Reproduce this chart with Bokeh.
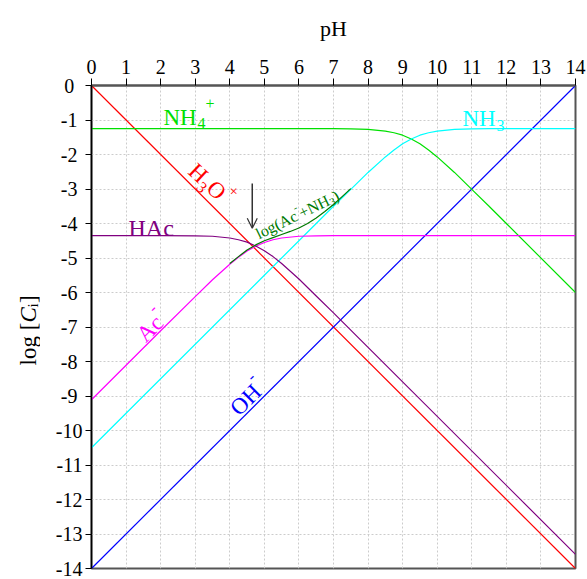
import math
from bokeh.plotting import figure
from bokeh.layouts import row
from bokeh.models import Range1d, FixedTicker, Label, Arrow, OpenHead
from bokeh.embed import file_html
from bokeh.resources import INLINE

# ---------------- data ----------------
ph_ticks = list(range(0, 15))
logc_ticks = list(range(0, -15, -1))

ph_h3o = [0, 14]
logc_h3o = [0.0, -14.0]

ph_oh = [0, 14]
logc_oh = [-14.0, 0.0]

ph_ac = [0, 2, 3, 3.5, 4, 4.25, 4.5, 4.75, 5, 5.25, 5.5, 6, 6.5, 7, 14]
logc_ac = [-9.11, -7.11, -6.12, -5.63, -5.18, -4.98, -4.80, -4.66, -4.55,
           -4.47, -4.42, -4.37, -4.36, -4.35, -4.35]

ph_hac = [0, 2, 3, 3.5, 4, 4.25, 4.5, 4.75, 5, 5.25, 5.5, 6, 6.5, 7, 8, 14]
logc_hac = [-4.35, -4.35, -4.36, -4.37, -4.42, -4.47, -4.54, -4.65, -4.79,
            -4.96, -5.16, -5.61, -6.10, -6.59, -7.59, -13.59]

ph_nh4 = [0, 7, 7.5, 8, 8.5, 8.75, 9, 9.25, 9.5, 9.75, 10, 10.5, 11, 11.5, 12, 14]
logc_nh4 = [-1.25, -1.25, -1.26, -1.27, -1.32, -1.37, -1.44, -1.55, -1.69,
            -1.87, -2.07, -2.52, -3.01, -3.50, -4.00, -6.00]

ph_nh3 = [0, 5, 6, 6.5, 7, 7.5, 8, 8.5, 8.75, 9, 9.25, 9.5, 9.75, 10, 10.5, 11, 11.5, 14]
logc_nh3 = [-10.50, -5.50, -4.50, -4.00, -3.50, -3.01, -2.52, -2.07, -1.87,
            -1.69, -1.55, -1.44, -1.37, -1.32, -1.27, -1.26, -1.25, -1.25]

ph_sum = [4, 4.25, 4.5, 4.75, 5, 5.25, 5.5, 5.75, 6, 6.25, 6.5, 6.75, 7, 7.25, 7.5]
logc_sum = [-5.16, -4.96, -4.77, -4.62, -4.50, -4.41, -4.32, -4.23, -4.13,
            -4.00, -3.84, -3.65, -3.45, -3.22, -2.99]

# ---------------- geometry ----------------
FONT = "Liberation Serif"
W, H = 587, 579
LABW = 40                      # narrow strip holding the y-axis title
BL, BR, BT, BB = 91, 12, 85, 11
FW, FH = W - BL - BR, H - BT - BB

# ---------------- main figure ----------------
p = figure(width=W - LABW, height=H, x_range=Range1d(0, 14), y_range=Range1d(-14, 0),
           output_backend="svg", toolbar_location=None, x_axis_location="above",
           title=None,
           min_border_left=BL - LABW, min_border_right=BR, min_border_top=BT,
           min_border_bottom=BB, background_fill_color="white",
           border_fill_color="white")

p.outline_line_color = "#555555"
p.outline_line_width = 2

# centred-looking y tick labels: pad shorter labels with thin unicode spaces
PAD1 = "\u2005"            # quarter em
PAD0 = "\u2005\u2006"      # quarter + sixth em


def ylab(t):
    s = str(t)
    if t == 0:
        return s + PAD0
    if t > -10:
        return s + PAD1
    return s


xa = p.xaxis[0]
xa.ticker = FixedTicker(ticks=ph_ticks)
xa.major_label_overrides = {t: str(t) for t in ph_ticks}
xa.axis_line_color = "#555555"
xa.axis_line_width = 2
xa.axis_label = "pH"
xa.axis_label_text_font = FONT
xa.axis_label_text_font_size = "22px"
xa.axis_label_text_font_style = "normal"
xa.axis_label_text_color = "black"
xa.axis_label_standoff = 16

ya = p.yaxis[0]
ya.ticker = FixedTicker(ticks=logc_ticks)
ya.major_label_overrides = {t: ylab(t) for t in logc_ticks}
ya.axis_line_color = "black"
ya.axis_line_width = 1.5
for ax in (xa, ya):
    ax.major_tick_line_color = "black"
    ax.major_tick_line_width = 1
    ax.major_tick_in = 0
    ax.minor_tick_line_color = None
    ax.major_label_text_font = FONT
    ax.major_label_text_font_size = "20px"
    ax.major_label_text_color = "black"
xa.major_tick_out = 7
xa.major_label_standoff = 5
ya.major_tick_out = 6
ya.major_label_standoff = 3

for g in (p.xgrid[0], p.ygrid[0]):
    g.grid_line_color = "#cccccc"
    g.grid_line_dash = "2 2"
    g.grid_line_width = 1

# ---------------- curves ----------------
LW = 1.2
p.line(ph_h3o, logc_h3o, line_color="#ff0000", line_width=LW)
p.line(ph_oh, logc_oh, line_color="#0000ff", line_width=LW)
p.line(ph_nh4, logc_nh4, line_color="#00e000", line_width=LW)
p.line(ph_nh3, logc_nh3, line_color="#00ffff", line_width=LW)
p.line(ph_ac, logc_ac, line_color="#ff00ff", line_width=LW)
p.line(ph_hac, logc_hac, line_color="#800080", line_width=LW)
p.line(ph_sum, logc_sum, line_color="#007a00", line_width=LW)

p.add_layout(Arrow(end=OpenHead(size=10, line_color="#333333", line_width=1.2),
                   x_start=4.65, y_start=-2.84, x_end=4.65, y_end=-4.14,
                   line_color="#333333", line_width=1.5))

# ---------------- labels ----------------
SX, SY = FW / 14.0, FH / 14.0


def main_px(px, py):
    return ((px - BL) / SX, -(py - BT) / SY)


def put(fig, conv, sx, sy, ax, ay, ang, pieces, color):
    a = math.radians(ang)
    ux, uy = math.cos(a), math.sin(a)
    vx, vy = -math.sin(a), math.cos(a)
    x0, y0 = conv(ax, ay)
    for piece in pieces:
        txt, along, perp, size = piece[:4]
        style = piece[4] if len(piece) > 4 else "normal"
        dx = (along * ux + perp * vx) / sx
        dy = (along * uy + perp * vy) / sy
        fig.add_layout(Label(x=x0 + dx, y=y0 + dy, text=txt, angle=a,
                             text_font=FONT, text_font_size=f"{size}px",
                             text_color=color, text_font_style=style,
                             text_align="left", text_baseline="alphabetic"))


def pm(ax, ay, ang, pieces, color):
    put(p, main_px, SX, SY, ax, ay, ang, pieces, color)


pm(163, 117, 0, [("NH", 0, 0, 23), ("4", 34, -6, 16), ("+", 42, 14, 16)], "#00e000")
pm(462, 118, 0, [("NH", 0, 0, 23), ("3", 34, -7, 16)], "#00ffff")
pm(128, 227, 0, [("HAc", 0, 0, 24)], "#800080")
pm(191.7, 166.9, -43, [("H", 0, 0, 23), ("3", 16.6, -8, 16), ("O", 25, 0, 23),
                       ("+", 42, 11, 16)], "#ff0000")
pm(140, 337.7, 45, [("Ac", 0, 0, 23), ("-", 27, 13, 16)], "#ff00ff")
pm(233.5, 411.2, 45, [("OH", 0, 0, 23), ("-", 34, 13, 16)], "#0000ff")
pm(256, 234, 26, [("log(Ac", 0, 0, 16), ("-", 44.5, 7, 11), ("+NH", 48, 0, 16),
                  ("3", 80, -4, 11), (")", 85.5, 0, 16)], "#007a00")

# ---------------- y-axis title strip ----------------
# The row layout aligns this strip's frame with the main frame vertically,
# so it shares the main y range.
q = figure(width=LABW, height=H, x_range=Range1d(0, LABW), y_range=p.y_range,
           output_backend="svg", toolbar_location=None, x_axis_location=None,
           y_axis_location=None, title=None, min_border=0, min_border_left=0,
           min_border_right=0, min_border_top=BT, min_border_bottom=BB,
           outline_line_color=None, background_fill_color="white",
           border_fill_color="white")
q.xgrid.visible = False
q.ygrid.visible = False


def strip_px(px, py):
    return (px, -(py - BT) / SY)


put(q, strip_px, 1.0, SY, 28, 365, 90,
    [("log [", 0, 0, 23), ("C", 43, 0, 23, "italic"),
     ("i", 58, -4, 15), ("]", 62.5, 0, 23)], "black")

layout = row(q, p, spacing=0)
open("out.html", "w").write(file_html(layout, INLINE))
